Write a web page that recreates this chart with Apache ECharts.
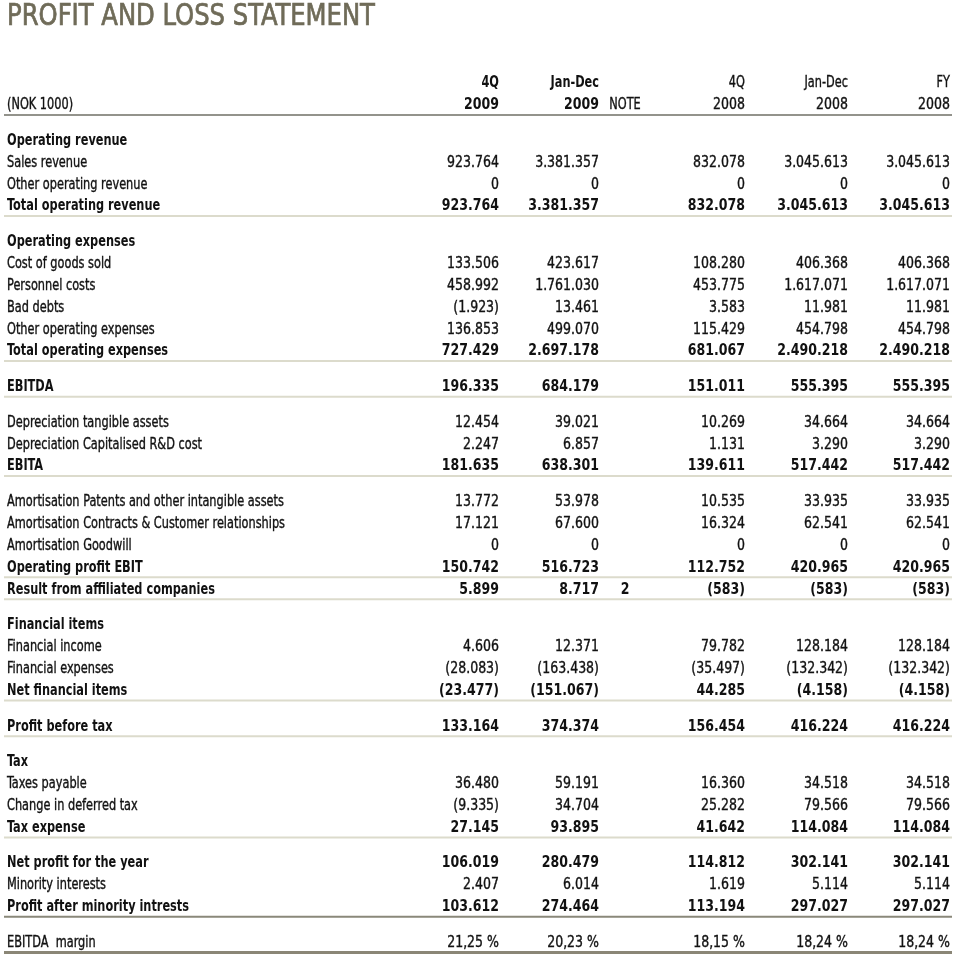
<!DOCTYPE html>
<html><head><meta charset="utf-8">
<script src="https://cdn.jsdelivr.net/npm/echarts@6/dist/echarts.min.js"></script>
<style>html,body{margin:0;padding:0;background:#fff}#c{width:960px;height:960px}</style>
</head><body><div id="c"></div>
<script>
// ---------- DATA ----------
const title = "PROFIT AND LOSS STATEMENT";
const headerTop = ["", "4Q", "Jan-Dec", "", "4Q", "Jan-Dec", "FY"];
const headerBottom = ["(NOK 1000)", "2009", "2009", "NOTE", "2008", "2008", "2008"];

const rowLabels = [
  "Operating revenue", "Sales revenue", "Other operating revenue", "Total operating revenue",
  "Operating expenses", "Cost of goods sold", "Personnel costs", "Bad debts", "Other operating expenses", "Total operating expenses",
  "EBITDA",
  "Depreciation tangible assets", "Depreciation Capitalised R&D cost", "EBITA",
  "Amortisation Patents and other intangible assets", "Amortisation Contracts & Customer relationships", "Amortisation Goodwill", "Operating profit EBIT", "Result from affiliated companies",
  "Financial items", "Financial income", "Financial expenses", "Net financial items",
  "Profit before tax",
  "Tax", "Taxes payable", "Change in deferred tax", "Tax expense",
  "Net profit for the year", "Minority interests", "Profit after minority intrests",
  "EBITDA  margin"
];
// section group of each row (a new group starts after a gap)
const rowGroups = [0,0,0,0, 1,1,1,1,1,1, 2, 3,3,3, 4,4,4,4,4, 5,5,5,5, 6, 7,7,7,7, 8,8,8, 9];
// row kind: section heading, item, total (ruled), sum (bold, no rule), final (ruled dark), margin
const rowKinds = [
  "section","item","item","total",
  "section","item","item","item","item","total",
  "total",
  "item","item","total",
  "item","item","item","total","total",
  "section","item","item","total",
  "total",
  "section","item","item","total",
  "sum","item","final",
  "margin"
];
const q4_2009 = ["","923.764","0","923.764","","133.506","458.992","(1.923)","136.853","727.429","196.335","12.454","2.247","181.635","13.772","17.121","0","150.742","5.899","","4.606","(28.083)","(23.477)","133.164","","36.480","(9.335)","27.145","106.019","2.407","103.612","21,25 %"];
const jd_2009 = ["","3.381.357","0","3.381.357","","423.617","1.761.030","13.461","499.070","2.697.178","684.179","39.021","6.857","638.301","53.978","67.600","0","516.723","8.717","","12.371","(163.438)","(151.067)","374.374","","59.191","34.704","93.895","280.479","6.014","274.464","20,23 %"];
const notes = ["","","","","","","","","","","","","","","","","","","2","","","","","","","","","","","","",""];
const q4_2008 = ["","832.078","0","832.078","","108.280","453.775","3.583","115.429","681.067","151.011","10.269","1.131","139.611","10.535","16.324","0","112.752","(583)","","79.782","(35.497)","44.285","156.454","","16.360","25.282","41.642","114.812","1.619","113.194","18,15 %"];
const jd_2008 = ["","3.045.613","0","3.045.613","","406.368","1.617.071","11.981","454.798","2.490.218","555.395","34.664","3.290","517.442","33.935","62.541","0","420.965","(583)","","128.184","(132.342)","(4.158)","416.224","","34.518","79.566","114.084","302.141","5.114","297.027","18,24 %"];
const fy_2008 = ["","3.045.613","0","3.045.613","","406.368","1.617.071","11.981","454.798","2.490.218","555.395","34.664","3.290","517.442","33.935","62.541","0","420.965","(583)","","128.184","(132.342)","(4.158)","416.224","","34.518","79.566","114.084","302.141","5.114","297.027","18,24 %"];
const columns = [rowLabels, q4_2009, jd_2009, notes, q4_2008, jd_2008, fy_2008];
const boldHeaderCols = [false, true, true, false, false, false, false];

// ---------- LAYOUT ----------
const FONT = "'Liberation Sans Narrow','DejaVu Sans Condensed','Arial Narrow',sans-serif";
const FS_TEXT = 15, SCALE_TEXT = 0.84;
const FS_NUM = 15, SCALE_NUM = 0.93;
const TEXT_COLOR = "#111111";
const colAnchor = [7, 499, 599, 625, 745, 848, 950];
const colAlign = ["left", "right", "right", "center", "right", "right", "right"];
const headerY1 = 82, headerY2 = 104, headerRuleY = 115;
const firstRowY = 140, pitch = 21.85, groupGap = 35.7, textShift = 1;
const ruleLeft = 4, ruleRight = 952;

const rowY = [];
let y = firstRowY;
for (let i = 0; i < rowLabels.length; i++) {
  if (i > 0) y += (rowGroups[i] !== rowGroups[i - 1]) ? groupGap : pitch;
  rowY.push(y);
}

const cells = [];
for (let c = 0; c < columns.length; c++) {
  if (headerTop[c]) cells.push({ x: colAnchor[c], y: headerY1, text: headerTop[c], align: colAlign[c], bold: boldHeaderCols[c] });
  cells.push({ x: colAnchor[c], y: headerY2, text: headerBottom[c], align: colAlign[c], bold: boldHeaderCols[c] });
  for (let r = 0; r < rowLabels.length; r++) {
    const t = columns[c][r];
    if (!t) continue;
    const k = rowKinds[r];
    const bold = (k === "total" || k === "sum" || k === "final" || (k === "section" && c === 0));
    cells.push({ x: colAnchor[c], y: rowY[r], text: t, align: colAlign[c], bold: bold });
  }
}

const ruleStyles = {
  header: { stroke: "#6f6f66", lineWidth: 1.6 },
  total: { stroke: "#dcdbcc", lineWidth: 2 },
  final: { stroke: "#8a887a", lineWidth: 2 },
  margin: { stroke: "#8a8676", lineWidth: 3 }
};
const rules = [{ y: headerRuleY, kind: "header" }];
for (let r = 0; r < rowLabels.length; r++) {
  const k = rowKinds[r];
  if (k === "total" || k === "final" || k === "margin") rules.push({ y: rowY[r] + 10.5, kind: k });
}

const isNumeric = s => /^[\d.,()% ]+$/.test(s);

const chart = echarts.init(document.getElementById("c"), null, { renderer: "canvas" });
chart.setOption({
  backgroundColor: "#ffffff",
  animation: false,
  graphic: [{
    type: "text", x: 7, y: 17, scaleX: 0.9, silent: true,
    style: { text: title, font: "30px " + FONT, fill: "#6f6b58", stroke: "#6f6b58", lineWidth: 0.7,
             align: "left", verticalAlign: "middle" }
  }],
  grid: { left: 0, right: 0, top: 0, bottom: 0 },
  xAxis: { type: "value", min: 0, max: 960, show: false },
  yAxis: { type: "value", min: 0, max: 960, inverse: true, show: false },
  series: [
    {
      type: "custom", silent: true, clip: false,
      data: rules.map(r => [ruleLeft, r.y, ruleRight, r.y]),
      renderItem: function (params, api) {
        const p1 = api.coord([api.value(0), api.value(1)]);
        const p2 = api.coord([api.value(2), api.value(3)]);
        const st = ruleStyles[rules[params.dataIndex].kind];
        return { type: "line", shape: { x1: p1[0], y1: p1[1], x2: p2[0], y2: p2[1] }, style: { stroke: st.stroke, lineWidth: st.lineWidth } };
      }
    },
    {
      type: "custom", silent: true, clip: false,
      data: cells.map(c => [c.x, c.y]),
      renderItem: function (params, api) {
        const d = cells[params.dataIndex];
        const p = api.coord([api.value(0), api.value(1)]);
        const num = isNumeric(d.text);
        return {
          type: "text", x: p[0], y: p[1] + textShift,
          scaleX: num ? SCALE_NUM : SCALE_TEXT,
          style: {
            text: d.text, fill: TEXT_COLOR,
            stroke: d.bold ? null : TEXT_COLOR, lineWidth: d.bold ? 0 : 0.35,
            font: (d.bold ? "bold " : "") + (num ? FS_NUM : FS_TEXT) + "px " + FONT,
            align: d.align, verticalAlign: "middle"
          }
        };
      }
    }
  ]
});
</script></body></html>
